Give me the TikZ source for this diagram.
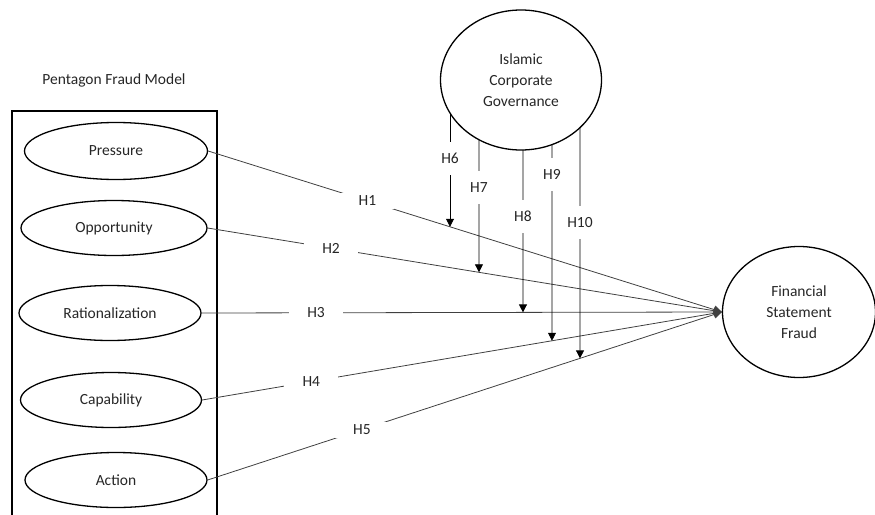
\documentclass[tikz,border=0pt]{standalone}
\usepackage{fontspec}
\setmainfont{Carlito}
\usetikzlibrary{shapes.geometric,arrows.meta}
\begin{document}
\begin{tikzpicture}[x=1pt,y=-1pt,
  every node/.style={font=\fontsize{15.5}{21}\selectfont, text=black!85},
  oval/.style={ellipse, draw=black, line width=1.3pt, inner sep=0pt, align=center},
  conn/.style={draw=black!75, line width=0.8pt},
  arr/.style={conn, -{Triangle[width=8pt,length=8pt]}},
  varr/.style={draw=black, line width=0.8pt, -{Triangle[width=8pt,length=8pt]}},
  hlbl/.style={fill=white, inner sep=0pt, minimum width=54pt, minimum height=16pt},
  vlbl/.style={fill=white, inner sep=0pt, minimum width=22pt, minimum height=33pt}]
\useasboundingbox (0,0) rectangle (875,514);
% frame
\draw[line width=1.3pt] (12,515) -- (12,111) -- (217,111) -- (217,515);
\node (title) at (114,80) {Pentagon Fraud Model};
% construct ellipses
\node[oval, minimum width=183pt, minimum height=57pt] (press) at (116,151) {Pressure};
\node[oval, minimum width=186pt, minimum height=55pt] (opp) at (114,228) {Opportunity};
\node[oval, minimum width=182pt, minimum height=55pt] (rat) at (110,313) {Rationalization};
\node[oval, minimum width=181pt, minimum height=55pt] (cap) at (111,400) {Capability};
\node[oval, minimum width=182pt, minimum height=55pt] (act) at (116,480) {Action};
\node[oval, minimum width=161pt, minimum height=140pt] (icg) at (521,80) {Islamic\\Corporate\\Governance};
\node[oval, minimum width=153pt, minimum height=131pt] (fsf) at (799,312) {Financial\\Statement\\Fraud};
% main paths
\draw[arr] (press.east) -- node[hlbl, pos=0.31] (h1) {H1} (fsf.west);
\draw[arr] (opp.east) -- node[hlbl, pos=0.24] (h2) {H2} (fsf.west);
\draw[arr] (rat.east) -- node[hlbl, pos=0.22] (h3) {H3} (fsf.west);
\draw[arr] (cap.east) -- node[hlbl, pos=0.21] (h4) {H4} (fsf.west);
\draw[arr] (act.east) -- node[hlbl, pos=0.30] (h5) {H5} (fsf.west);
% moderating arrows
\coordinate (s6) at (450,113);
\coordinate (s7) at (479,140);
\coordinate (s8) at (523,150);
\coordinate (s9) at (552,145);
\coordinate (s10) at (580,128);
\coordinate (e6) at (intersection of press.east--fsf.west and 450,0--450,500);
\coordinate (e7) at (intersection of opp.east--fsf.west and 479,0--479,500);
\coordinate (e8) at (intersection of rat.east--fsf.west and 523,0--523,500);
\coordinate (e9) at (intersection of cap.east--fsf.west and 552,0--552,500);
\coordinate (e10) at (intersection of act.east--fsf.west and 580,0--580,500);
\draw[varr] (s6) -- node[vlbl, pos=0.40] (h6) {H6} (e6);
\draw[varr] (s7) -- node[vlbl, pos=0.36] (h7) {H7} (e7);
\draw[varr] (s8) -- node[vlbl, pos=0.41] (h8) {H8} (e8);
\draw[varr] (s9) -- node[vlbl, pos=0.15] (h9) {H9} (e9);
\draw[varr] (s10) -- node[vlbl, pos=0.41] (h10) {H10} (e10);
\end{tikzpicture}
\end{document}
